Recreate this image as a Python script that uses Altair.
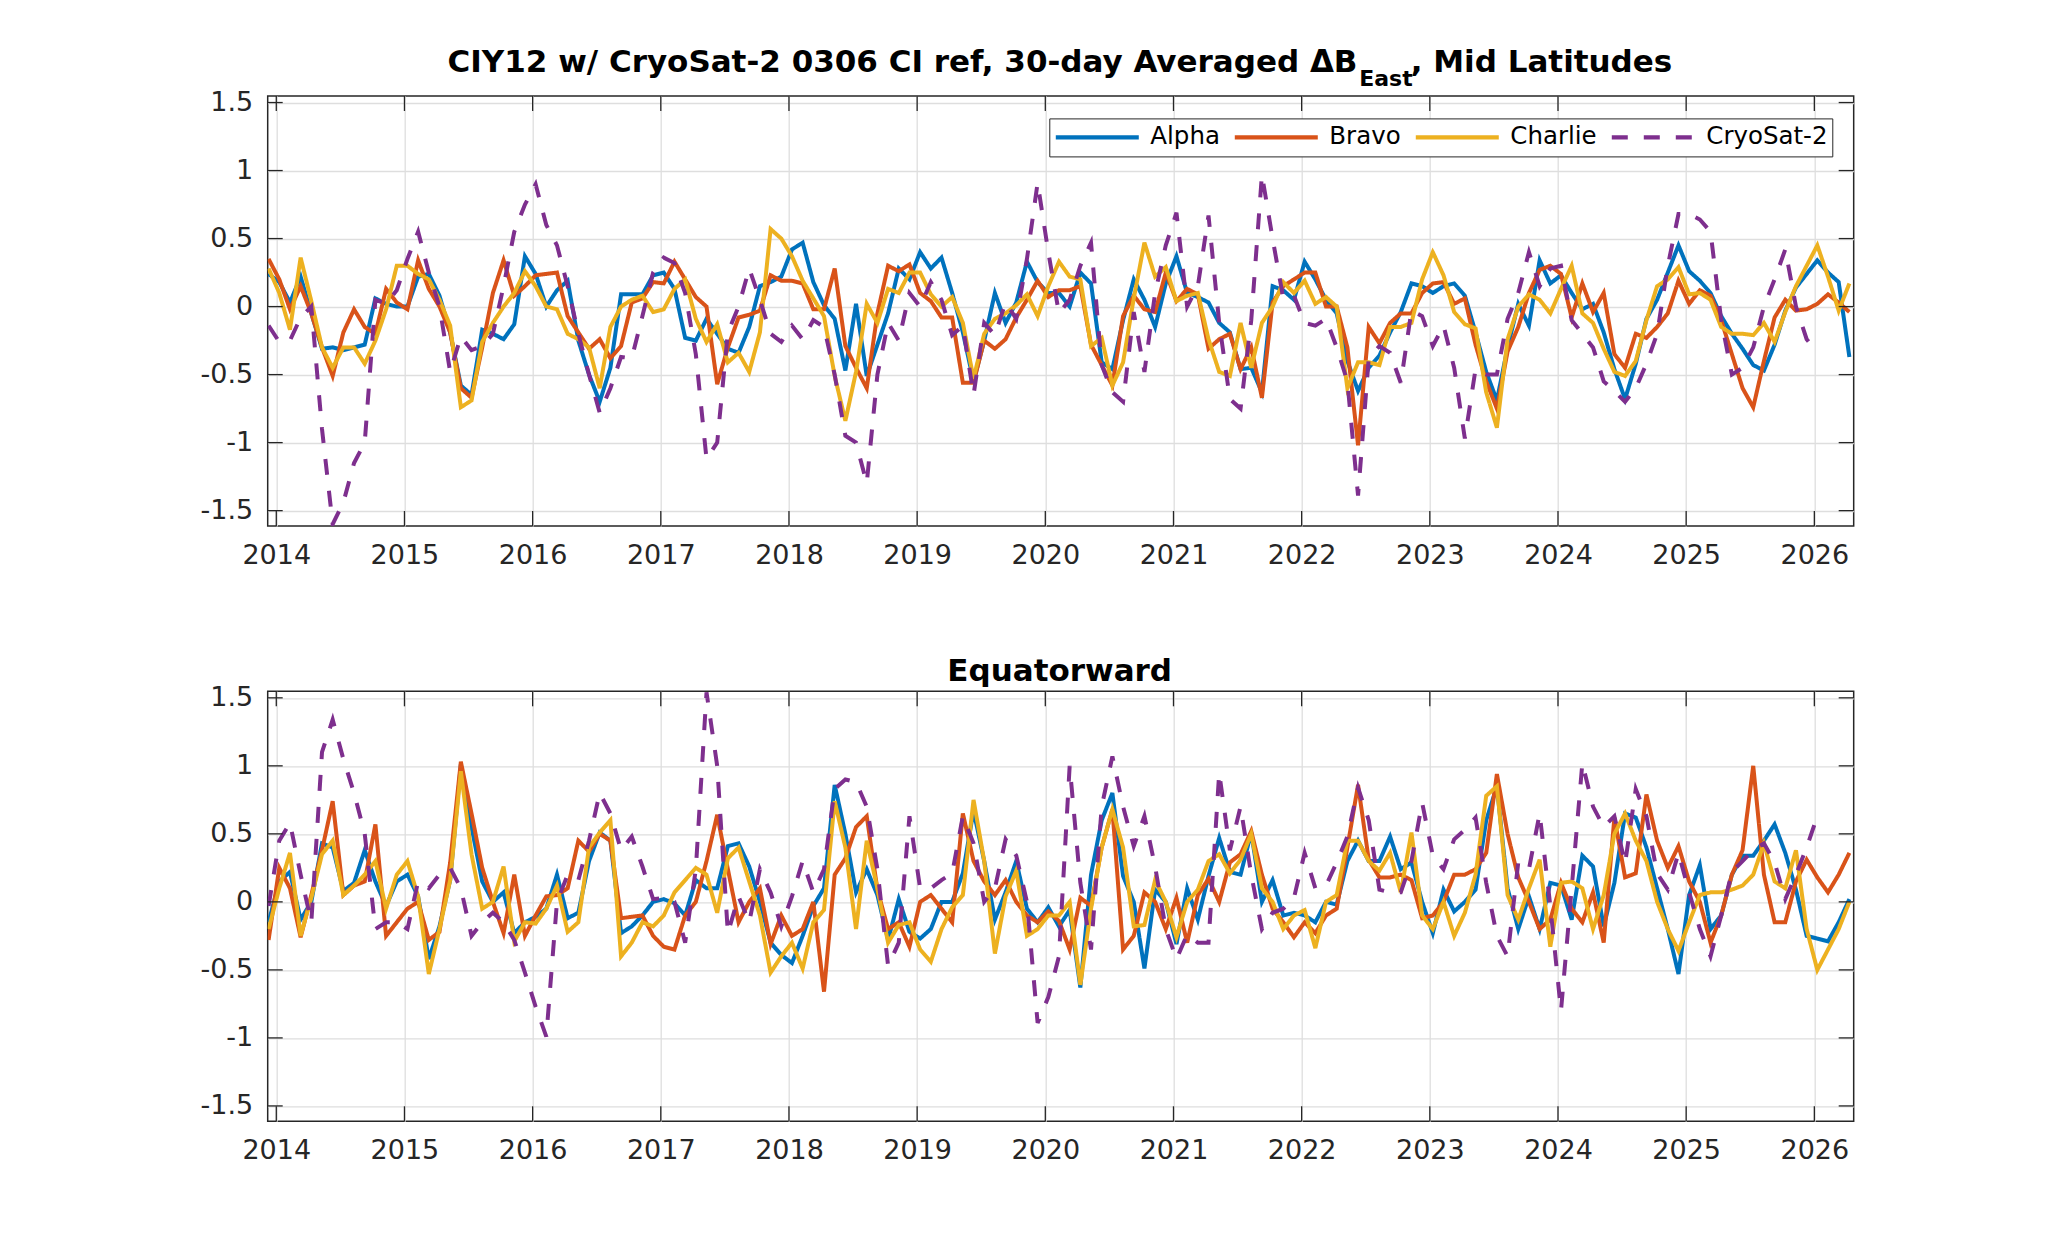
import altair as alt
import pandas as pd

# ---------------- time grid (30-day averages, ~monthly) ----------------
T0 = 2013.94
N = 149
T = [round(T0 + m / 12.0, 4) for m in range(N)]

SERIES = ["Alpha", "Bravo", "Charlie", "CryoSat-2"]
COLORS = ["#0072BD", "#D95319", "#EDB120", "#7E2F8E"]
DASHES = [[1, 0], [1, 0], [1, 0], [16, 16]]

XTICKS = list(range(2014, 2027))
YTICKS = [-1.5, -1, -0.5, 0, 0.5, 1, 1.5]
XDOM = [2013.933, 2026.307]
YDOM = [-1.613, 1.548]

TITLE_MAIN = "CIY12 w/ CryoSat-2 0306 CI ref, 30-day Averaged \u0394B"
TITLE_SUB = "East"
TITLE_TAIL = ", Mid Latitudes"
TITLE_BOTTOM = "Equatorward"

# ---------------- Mid Latitudes (top panel) ----------------
TOP_ALPHA = [
    0.24, 0.18, 0.03, 0.22, -0.05, -0.31, -0.30, -0.32, -0.30, -0.28,
    0.06, 0.02, 0.00, 0.00, 0.22, 0.24, 0.08, -0.19, -0.58, -0.65,
    -0.17, -0.20, -0.24, -0.13, 0.37, 0.24, 0.00, 0.12, 0.19, -0.25,
    -0.50, -0.70, -0.45, 0.09, 0.09, 0.09, 0.23, 0.25, 0.13, -0.23,
    -0.25, -0.09, -0.20, -0.31, -0.34, -0.15, 0.15, 0.18, 0.22, 0.42,
    0.47, 0.18, 0.01, -0.09, -0.47, 0.02, -0.51, -0.28, -0.05, 0.28,
    0.20, 0.40, 0.28, 0.36, 0.10, -0.19, -0.55, -0.25, 0.10, -0.12,
    0.03, 0.33, 0.18, 0.10, 0.10, 0.00, 0.25, 0.17, -0.41, -0.46,
    -0.10, 0.20, 0.05, -0.15, 0.17, 0.37, 0.10, 0.07, 0.03, -0.12,
    -0.19, -0.46, -0.45, -0.63, 0.15, 0.12, 0.05, 0.33, 0.20, 0.05,
    -0.05, -0.40, -0.62, -0.45, -0.36, -0.19, -0.04, 0.17, 0.15, 0.10,
    0.15, 0.17, 0.08, -0.19, -0.48, -0.69, -0.30, 0.02, -0.14, 0.34,
    0.17, 0.23, 0.10, -0.02, 0.02, -0.19, -0.46, -0.68, -0.42, -0.09,
    0.05, 0.25, 0.45, 0.26, 0.19, 0.10, -0.07, -0.20, -0.31, -0.43,
    -0.47, -0.28, -0.03, 0.14, 0.24, 0.34, 0.25, 0.18, -0.37,
]
TOP_BRAVO = [
    0.35, 0.20, -0.02, 0.15, -0.05, -0.30, -0.51, -0.19, -0.02, -0.15,
    -0.20, 0.13, 0.03, -0.02, 0.34, 0.13, 0.00, -0.19, -0.60, -0.67,
    -0.30, 0.10, 0.34, 0.08, 0.15, 0.23, 0.24, 0.25, -0.07, -0.19,
    -0.31, -0.24, -0.38, -0.29, 0.03, 0.06, 0.18, 0.17, 0.33, 0.20,
    0.07, 0.00, -0.57, -0.30, -0.08, -0.06, -0.03, 0.23, 0.19, 0.19,
    0.17, -0.02, -0.02, 0.28, -0.29, -0.45, -0.60, -0.05, 0.30, 0.26,
    0.31, 0.10, 0.04, -0.08, -0.08, -0.56, -0.56, -0.25, -0.31, -0.24,
    -0.08, 0.05, 0.19, 0.07, 0.12, 0.12, 0.15, -0.28, -0.43, -0.58,
    -0.07, 0.08, -0.02, -0.04, 0.25, 0.04, 0.13, 0.09, -0.31, -0.24,
    -0.20, -0.46, -0.30, -0.67, 0.03, 0.15, 0.20, 0.25, 0.25, 0.00,
    0.00, -0.30, -1.02, -0.15, -0.27, -0.12, -0.05, -0.05, 0.10, 0.17,
    0.18, 0.02, 0.06, -0.28, -0.55, -0.75, -0.33, -0.15, 0.10, 0.27,
    0.30, 0.24, -0.08, 0.17, -0.04, 0.10, -0.35, -0.45, -0.20, -0.23,
    -0.15, -0.05, 0.19, 0.02, 0.12, 0.08, -0.10, -0.35, -0.60, -0.74,
    -0.40, -0.08, 0.05, -0.03, -0.02, 0.02, 0.09, 0.03, -0.04,
]
TOP_CHARLIE = [
    0.28, 0.10, -0.17, 0.36, 0.04, -0.30, -0.45, -0.30, -0.30, -0.42,
    -0.25, -0.02, 0.30, 0.30, 0.24, 0.20, 0.05, -0.14, -0.74, -0.69,
    -0.26, -0.12, 0.00, 0.10, 0.26, 0.15, 0.00, -0.02, -0.20, -0.24,
    -0.30, -0.60, -0.15, 0.00, 0.05, 0.08, -0.04, -0.02, 0.13, 0.20,
    -0.09, -0.26, -0.13, -0.41, -0.34, -0.48, -0.19, 0.57, 0.50, 0.37,
    0.19, 0.06, -0.07, -0.51, -0.84, -0.48, 0.02, -0.12, 0.13, 0.10,
    0.25, 0.25, 0.09, 0.00, 0.07, -0.12, -0.53, -0.20, -0.09, -0.05,
    0.01, 0.09, -0.07, 0.15, 0.33, 0.22, 0.20, -0.29, -0.23, -0.58,
    -0.41, 0.06, 0.47, 0.22, 0.29, 0.04, 0.08, 0.10, -0.24, -0.48,
    -0.51, -0.12, -0.45, -0.12, 0.00, 0.18, 0.10, 0.19, 0.02, 0.07,
    0.00, -0.60, -0.41, -0.41, -0.43, -0.15, -0.15, -0.12, 0.20, 0.40,
    0.23, -0.04, -0.13, -0.16, -0.63, -0.89, -0.24, 0.00, 0.09, 0.05,
    -0.05, 0.13, 0.30, -0.05, -0.12, -0.31, -0.48, -0.51, -0.40, -0.10,
    0.15, 0.20, 0.29, 0.09, 0.10, 0.05, -0.15, -0.20, -0.20, -0.21,
    -0.12, -0.26, -0.04, 0.15, 0.30, 0.45, 0.22, -0.03, 0.17,
]
TOP_CRYO = [
    -0.14, -0.26, -0.25, -0.08, 0.00, -0.90, -1.60, -1.44, -1.15, -1.00,
    0.05, 0.02, 0.12, 0.35, 0.55, 0.25, 0.00, -0.48, -0.22, -0.32,
    -0.29, -0.20, 0.15, 0.55, 0.75, 0.90, 0.60, 0.45, 0.15, -0.20,
    -0.50, -0.78, -0.60, -0.37, -0.38, -0.07, 0.25, 0.36, 0.32, 0.10,
    -0.35, -1.12, -1.00, -0.19, 0.00, 0.28, 0.05, -0.20, -0.26, -0.14,
    -0.24, -0.10, -0.15, -0.50, -0.95, -1.00, -1.30, -0.50, -0.12, -0.25,
    0.10, 0.00, 0.18, 0.05, -0.21, -0.14, -0.65, -0.12, -0.21, 0.03,
    -0.09, 0.35, 0.91, 0.40, -0.05, 0.05, 0.30, 0.47, -0.43, -0.63,
    -0.70, -0.04, -0.48, 0.10, 0.45, 0.69, 0.00, 0.15, 0.67, -0.12,
    -0.68, -0.75, -0.10, 0.97, 0.50, 0.06, 0.08, -0.12, -0.14, -0.09,
    -0.30, -0.55, -1.39, -0.38, -0.29, -0.34, -0.56, -0.03, -0.07, -0.29,
    -0.14, -0.45, -0.97, -0.46, -0.50, -0.50, -0.09, 0.10, 0.40, 0.15,
    0.28, 0.30, -0.10, -0.20, -0.30, -0.55, -0.62, -0.70, -0.60, -0.42,
    -0.20, 0.30, 0.68, 0.68, 0.64, 0.55, -0.10, -0.50, -0.45, -0.30,
    0.00, 0.20, 0.42, 0.00, -0.24, -0.34,
]

# ---------------- Equatorward (bottom panel) ----------------
BOT_ALPHA = [
    -0.15, 0.15, 0.22, -0.13, 0.00, 0.43, 0.40, 0.08, 0.14, 0.38,
    0.15, -0.03, 0.15, 0.20, 0.04, -0.42, -0.18, 0.16, 1.01, 0.55,
    0.15, 0.00, 0.07, -0.23, -0.15, -0.11, -0.05, 0.20, -0.12, -0.08,
    0.30, 0.51, 0.45, -0.23, -0.18, -0.10, 0.00, 0.02, -0.01, -0.10,
    0.16, 0.10, 0.10, 0.41, 0.43, 0.26, 0.00, -0.30, -0.39, -0.45,
    -0.25, -0.03, 0.10, 0.86, 0.50, 0.07, 0.24, 0.05, -0.28, 0.02,
    -0.22, -0.27, -0.20, 0.00, 0.00, 0.21, 0.67, 0.30, -0.13, 0.07,
    0.30, -0.05, -0.15, -0.04, -0.18, -0.06, -0.63, 0.20, 0.60, 0.80,
    0.19, 0.00, -0.49, 0.09, 0.00, -0.31, 0.10, -0.13, 0.19, 0.47,
    0.22, 0.20, 0.51, 0.00, 0.16, -0.10, -0.08, -0.10, -0.15, 0.00,
    -0.02, 0.30, 0.45, 0.30, 0.30, 0.48, 0.24, 0.29, 0.00, -0.23,
    0.09, -0.07, 0.00, 0.09, 0.60, 0.85, 0.10, -0.20, 0.04, -0.20,
    0.14, 0.12, -0.13, 0.34, 0.26, -0.18, 0.14, 0.65, 0.62, 0.40,
    0.10, -0.20, -0.53, 0.05, 0.27, -0.20, -0.10, 0.20, 0.34, 0.34,
    0.45, 0.57, 0.36, 0.09, -0.25, -0.27, -0.29, -0.15, 0.02,
]
BOT_BRAVO = [
    -0.28, 0.25, 0.10, -0.26, 0.05, 0.38, 0.74, 0.05, 0.12, 0.15,
    0.57, -0.25, -0.15, -0.05, 0.00, -0.28, -0.22, 0.29, 1.03, 0.65,
    0.25, 0.00, -0.23, 0.20, -0.25, -0.10, 0.04, 0.05, 0.10, 0.45,
    0.37, 0.50, 0.45, -0.12, -0.11, -0.10, -0.25, -0.33, -0.35, -0.10,
    0.00, 0.30, 0.64, 0.24, -0.15, 0.00, 0.10, -0.31, -0.10, -0.25,
    -0.20, 0.00, -0.66, 0.20, 0.32, 0.55, 0.63, 0.09, -0.20, -0.15,
    -0.33, 0.00, 0.05, -0.05, -0.15, 0.65, 0.30, 0.15, 0.05, 0.16,
    0.00, -0.10, -0.15, -0.07, -0.14, -0.35, 0.03, -0.03, 0.40, 0.68,
    -0.35, -0.25, 0.07, 0.00, -0.20, 0.03, -0.30, 0.05, 0.17, 0.00,
    0.29, 0.35, 0.52, 0.20, -0.05, -0.15, -0.26, -0.15, -0.23, -0.10,
    -0.05, 0.40, 0.86, 0.31, 0.18, 0.18, 0.20, 0.16, -0.12, -0.10,
    0.00, 0.20, 0.20, 0.24, 0.36, 0.94, 0.50, 0.18, 0.00, -0.20,
    -0.13, 0.14, -0.05, -0.15, 0.07, -0.30, 0.62, 0.18, 0.21, 0.79,
    0.45, 0.25, 0.41, 0.15, 0.00, -0.30, -0.10, 0.20, 0.38, 1.00,
    0.20, -0.15, -0.15, 0.15, 0.31, 0.18, 0.07, 0.20, 0.36,
]
BOT_CHARLIE = [
    -0.20, 0.10, 0.36, -0.25, 0.03, 0.35, 0.45, 0.05, 0.12, 0.20,
    0.30, -0.05, 0.20, 0.30, 0.04, -0.53, -0.20, 0.16, 0.96, 0.35,
    -0.05, 0.00, 0.26, -0.29, -0.15, -0.16, -0.05, 0.12, -0.22, -0.15,
    0.40, 0.51, 0.60, -0.40, -0.30, -0.15, -0.18, -0.10, 0.07, 0.16,
    0.25, 0.20, -0.08, 0.32, 0.40, 0.15, -0.10, -0.52, -0.40, -0.30,
    -0.49, -0.15, -0.06, 0.74, 0.40, -0.20, 0.45, 0.10, -0.30, -0.17,
    -0.15, -0.35, -0.44, -0.20, -0.04, 0.05, 0.75, 0.30, -0.38, 0.04,
    0.23, -0.25, -0.20, -0.10, -0.10, 0.00, -0.61, -0.05, 0.40, 0.68,
    0.40, -0.18, -0.17, 0.16, 0.00, -0.26, 0.00, 0.09, 0.30, 0.35,
    0.21, 0.31, 0.50, 0.10, 0.00, -0.20, -0.10, -0.06, -0.34, 0.00,
    0.05, 0.45, 0.45, 0.30, 0.23, 0.36, 0.07, 0.51, -0.10, -0.20,
    0.00, -0.25, -0.08, 0.20, 0.78, 0.85, 0.05, -0.13, 0.10, 0.31,
    -0.33, 0.14, 0.15, 0.10, -0.20, 0.05, 0.50, 0.65, 0.45, 0.30,
    0.00, -0.20, -0.36, -0.15, 0.05, 0.07, 0.07, 0.09, 0.12, 0.20,
    0.43, 0.15, 0.10, 0.38, -0.20, -0.50, -0.35, -0.20, 0.00,
]
BOT_CRYO = [
    -0.03, 0.45, 0.58, 0.20, -0.15, 1.10, 1.34, 1.05, 0.80, 0.50,
    -0.20, -0.15, -0.15, -0.20, 0.15, 0.10, 0.20, 0.25, 0.10, -0.25,
    -0.15, -0.08, -0.15, -0.28, -0.52, -0.77, -0.99, 0.00, 0.20, 0.16,
    0.45, 0.80, 0.65, 0.38, 0.48, 0.26, 0.02, 0.03, 0.00, -0.30,
    0.24, 1.54, 1.00, -0.23, 0.04, -0.15, 0.24, 0.07, -0.18, 0.04,
    0.30, 0.07, 0.24, 0.83, 0.90, 0.88, 0.70, 0.24, -0.47, -0.30,
    0.63, 0.10, 0.10, 0.16, 0.21, 0.63, 0.43, 0.00, 0.10, 0.46,
    0.34, 0.00, -0.89, -0.70, -0.40, 1.00, 0.14, -0.35, 0.70, 1.07,
    0.70, 0.41, 0.63, 0.26, -0.20, -0.42, -0.24, -0.30, -0.30, 0.95,
    0.38, 0.70, 0.20, -0.20, -0.08, -0.05, 0.03, 0.36, 0.10, 0.12,
    0.29, 0.48, 0.84, 0.60, 0.09, 0.07, 0.07, 0.30, 0.73, 0.34,
    0.24, 0.46, 0.53, 0.62, 0.14, -0.25, -0.40, 0.29, 0.24, 0.65,
    -0.03, -0.80, 0.10, 1.02, 0.70, 0.55, 0.63, 0.28, 0.83, 0.63,
    0.21, 0.09, 0.36, 0.07, -0.20, -0.40, -0.10, 0.22, 0.30, 0.38,
    0.43, 0.29, 0.02, 0.20, 0.40, 0.63,
]

# ---------------- layout constants ----------------
W, H = 1586, 430
FONT = "DejaVu Sans"
INK = "#262626"
GRID = "#dedede"
TICK_LEN = 15


def long_frame(series_values):
    rows = []
    for name, vals in zip(SERIES, series_values):
        for t, v in zip(T, vals):
            rows.append({"t": t, "v": v, "series": name})
    return pd.DataFrame(rows)


def title_text(s, x, y, size, align):
    return alt.Chart(pd.DataFrame({"s": [s]})).mark_text(
        font=FONT, fontWeight="bold", fontSize=size, align=align,
        baseline="alphabetic", color="black"
    ).encode(text="s:N", x=alt.value(x), y=alt.value(y))


def panel(df, legend, extra_layers=()):
    xscale = alt.Scale(domain=XDOM, nice=False, zero=False)
    yscale = alt.Scale(domain=YDOM, nice=False, zero=False)
    xaxis = alt.Axis(values=XTICKS, labelExpr="'' + datum.value", ticks=False, tickSize=0,
                     domain=False, grid=True, gridColor=GRID, gridWidth=1.3,
                     labelFont=FONT, labelFontSize=27, labelColor=INK, labelPadding=16,
                     labelFlush=False, labelOverlap=False, title=None,
                     minExtent=50, maxExtent=50)
    yaxis = alt.Axis(values=YTICKS, labelExpr="'' + datum.value", ticks=False, tickSize=0,
                     domain=False, grid=True, gridColor=GRID, gridWidth=1.3,
                     labelFont=FONT, labelFontSize=27, labelColor=INK, labelPadding=15,
                     labelFlush=False, labelOverlap=False, title=None,
                     minExtent=70, maxExtent=70)

    lines = alt.Chart(df).mark_line(strokeWidth=4, clip=True).encode(
        x=alt.X("t:Q", scale=xscale, axis=xaxis),
        y=alt.Y("v:Q", scale=yscale, axis=yaxis),
        color=alt.Color("series:N", scale=alt.Scale(domain=SERIES, range=COLORS), legend=legend),
        strokeDash=alt.StrokeDash("series:N", scale=alt.Scale(domain=SERIES, range=DASHES),
                                  legend=legend),
    )

    xt = pd.DataFrame({"t": XTICKS})
    yt = pd.DataFrame({"v": YTICKS})
    style = dict(color=INK, strokeWidth=1.3)
    xb = alt.Chart(xt).mark_rule(**style).encode(
        x=alt.X("t:Q", scale=xscale, axis=xaxis), y=alt.value(H), y2=alt.value(H - TICK_LEN))
    xtop = alt.Chart(xt).mark_rule(**style).encode(
        x=alt.X("t:Q", scale=xscale, axis=xaxis), y=alt.value(0), y2=alt.value(TICK_LEN))
    yl = alt.Chart(yt).mark_rule(**style).encode(
        y=alt.Y("v:Q", scale=yscale, axis=yaxis), x=alt.value(0), x2=alt.value(TICK_LEN))
    yr = alt.Chart(yt).mark_rule(**style).encode(
        y=alt.Y("v:Q", scale=yscale, axis=yaxis), x=alt.value(W - TICK_LEN), x2=alt.value(W))

    layers = [lines, xb, xtop, yl, yr] + list(extra_layers)
    return alt.layer(*layers).properties(width=W, height=H)


legend_top = alt.Legend(
    title=None, orient="none", legendX=781.6, legendY=22.4, direction="horizontal",
    symbolType="stroke", symbolSize=6889, symbolStrokeWidth=4.2, clipHeight=30,
    labelFont=FONT, labelFontSize=24.5, labelColor="black", labelOffset=9,
    columnPadding=12, padding=4, strokeColor=INK, fillColor="white", labelLimit=300,
)

top_df = long_frame([TOP_ALPHA, TOP_BRAVO, TOP_CHARLIE, TOP_CRYO])
bot_df = long_frame([BOT_ALPHA, BOT_BRAVO, BOT_CHARLIE, BOT_CRYO])

top = panel(
    top_df, legend_top,
    extra_layers=[
        title_text(TITLE_MAIN, 1089.8, -24.3, 31, "right"),
        title_text(TITLE_SUB, 1091.5, -10.5, 22, "left"),
        title_text(TITLE_TAIL, 1143, -24.3, 31, "left"),
    ],
)

bottom = panel(
    bot_df, None,
    extra_layers=[title_text(TITLE_BOTTOM, W / 2 - 1, -10.5, 31, "center")],
)

chart = alt.vconcat(top, bottom, spacing=77.3).resolve_scale(
    color="independent", strokeDash="independent"
).properties(
    padding={"left": 188.7, "top": 37, "right": 10, "bottom": 10},
    background="white",
).configure_view(stroke=INK, strokeWidth=1.5)

chart.save("out.html", embed_options={"renderer": "svg", "actions": False})
